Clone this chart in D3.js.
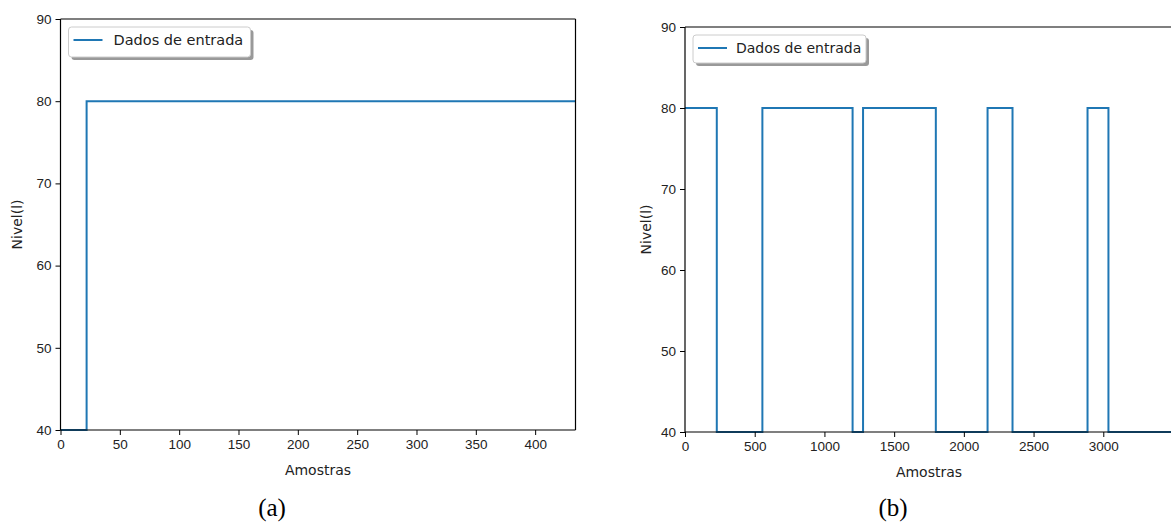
<!DOCTYPE html>
<html>
<head>
<meta charset="utf-8">
<script src="https://cdn.jsdelivr.net/npm/d3@7"></script>
<style>
  body { margin: 0; background: #fff; }
  svg { display: block; font-family: "DejaVu Sans", sans-serif; }
  .tick text { font-size: 13.5px; fill: #222; }
  .tick line { stroke: #000; }
  .domain { stroke: #000; }
</style>
</head>
<body>
<svg width="1171" height="525"></svg>
<script>
// (a) step input: level jumps from 40 to 80
var stepA = [0, 22, 434];
var levelA = [40, 80, 80];

// (b) switching input, change points
var stepB = [0, 228, 555, 1202, 1277, 1799, 2170, 2349, 2887, 3037, 3500];
var levelB = [80, 40, 80, 40, 80, 40, 80, 40, 80, 40, 40];

var ticksA = [0, 50, 100, 150, 200, 250, 300, 350, 400];
var ticksB = [0, 500, 1000, 1500, 2000, 2500, 3000];
var ticksY = [40, 50, 60, 70, 80, 90];

var svg = d3.select("svg");

function translate(x, y) {
  return "translate(" + String(x) + "," + String(y) + ")";
}

function drawPanel(opt) {
  var g = svg.append("g").attr("transform", translate(opt.left, opt.top));
  var w = opt.width, h = opt.height;

  var x = d3.scaleLinear().domain(opt.xdomain).range([0, w]);
  var y = d3.scaleLinear().domain([40, 90]).range([h, 0]);

  var pts = opt.steps.map(function(s, i) { return [s, opt.levels[i]]; });

  var line = d3.line()
    .x(function(d) { return x(d[0]); })
    .y(function(d) { return y(d[1]); })
    .curve(d3.curveStepAfter);

  g.append("path")
    .datum(pts)
    .attr("d", line)
    .attr("fill", "none")
    .attr("stroke", "#1f77b4")
    .attr("stroke-width", 2);

  // spines
  g.append("line").attr("x1", 0).attr("x2", w).attr("y1", 0).attr("y2", 0)
    .attr("stroke", "#000").attr("stroke-width", 1.2);
  if (opt.rightSpine) {
    g.append("line").attr("x1", w).attr("x2", w).attr("y1", 0).attr("y2", h)
      .attr("stroke", "#000").attr("stroke-width", 1.2);
  }

  var xAxis = g.append("g").attr("transform", translate(0, h))
    .call(d3.axisBottom(x).tickValues(opt.xticks).tickSize(5).tickPadding(4).tickFormat(d3.format("d")));
  var yAxis = g.append("g")
    .call(d3.axisLeft(y).tickValues(ticksY).tickSize(5).tickPadding(4).tickFormat(d3.format("d")));
  xAxis.select(".domain").attr("stroke-width", 1.2).attr("d", "M0,0H" + w);
  yAxis.select(".domain").attr("stroke-width", 1.2).attr("d", "M0,0V" + h);

  g.append("text")
    .attr("x", w / 2).attr("y", h + 45)
    .attr("text-anchor", "middle")
    .attr("font-size", 14).attr("fill", "#222")
    .text("Amostras");

  g.append("text")
    .attr("transform", translate(-opt.left + opt.ylabelX, h / 2) + " rotate(-90)")
    .attr("text-anchor", "middle")
    .attr("font-size", 14).attr("fill", "#222")
    .text("Nivel(l)");

  // legend with matplotlib-like shadow
  var lw = opt.legendW, lh = opt.legendH;
  var lg = g.append("g").attr("transform", translate(8, 8));
  lg.append("rect").attr("x", 3).attr("y", 3).attr("width", lw).attr("height", lh)
    .attr("rx", 3).attr("fill", "#999");
  lg.append("rect").attr("x", 0).attr("y", 0).attr("width", lw).attr("height", lh)
    .attr("rx", 3).attr("fill", "#fff").attr("stroke", "#ccc");
  lg.append("line").attr("x1", 5).attr("x2", 34).attr("y1", 13).attr("y2", 13)
    .attr("stroke", "#1f77b4").attr("stroke-width", 2);
  lg.append("text").attr("x", opt.legendTextX).attr("y", 18)
    .attr("font-size", opt.legendFont).attr("fill", "#222")
    .text("Dados de entrada");

  svg.append("text")
    .attr("x", opt.captionX).attr("y", 516)
    .attr("text-anchor", "middle")
    .attr("font-family", "Liberation Serif, serif")
    .attr("font-size", 25).attr("fill", "#000")
    .text(opt.caption);
}

drawPanel({
  left: 60.5, top: 19, width: 515, height: 411,
  xdomain: [0, 434], xticks: ticksA,
  steps: stepA, levels: levelA,
  rightSpine: true, ylabelX: 22, captionX: 272, caption: "(a)",
  legendW: 182, legendH: 30, legendTextX: 45, legendFont: 14.5
});

drawPanel({
  left: 685, top: 27, width: 488, height: 405,
  xdomain: [0, 3500], xticks: ticksB,
  steps: stepB, levels: levelB,
  rightSpine: false, ylabelX: 651, captionX: 893, caption: "(b)",
  legendW: 173, legendH: 28, legendTextX: 43, legendFont: 14
});
</script>
</body>
</html>
